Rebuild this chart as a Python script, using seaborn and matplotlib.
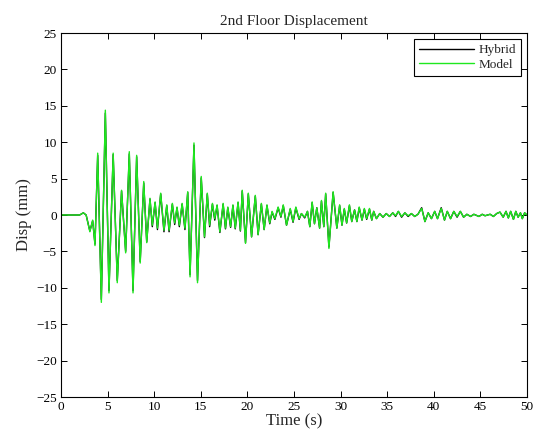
import numpy as np
import pandas as pd
import matplotlib
matplotlib.use("Agg")
import matplotlib.pyplot as plt
import seaborn as sns

# Peak/trough samples of the 2nd floor displacement record (s, mm)
time_s = [
    0.0, 2.0, 2.4, 2.7, 3.1, 3.4, 3.65, 3.94, 4.33, 4.76, 5.15, 5.6, 6.04, 6.5,
    6.94, 7.33, 7.73, 8.12, 8.5, 8.88, 9.2, 9.55, 9.8, 10.1, 10.35, 10.7, 11.05,
    11.35, 11.6, 11.95, 12.2, 12.45, 12.7, 13.0, 13.3, 13.6, 13.85, 14.27, 14.65,
    15.05, 15.4, 15.7, 15.95, 16.25, 16.5, 16.75, 17.05, 17.4, 17.65, 17.9, 18.2,
    18.45, 18.7, 19.0, 19.25, 19.45, 19.8, 20.1, 20.45, 20.85, 21.15, 21.5, 21.8,
    22.1, 22.4, 22.65, 22.95, 23.3, 23.6, 23.85, 24.2, 24.6, 24.9, 25.2, 25.55,
    25.8, 26.15, 26.45, 26.7, 26.95, 27.2, 27.45, 27.75, 27.95, 28.2, 28.4, 28.75,
    29.2, 29.6, 29.9, 30.15, 30.4, 30.65, 30.95, 31.2, 31.5, 31.75, 32.0, 32.3,
    32.55, 32.8, 33.1, 33.35, 33.55, 33.85, 34.2, 34.55, 34.9, 35.25, 35.6, 35.9,
    36.2, 36.55, 36.9, 37.25, 37.6, 37.95, 38.3, 38.7, 39.05, 39.4, 39.75, 40.1,
    40.4, 40.8, 41.15, 41.45, 41.8, 42.15, 42.5, 42.85, 43.2, 43.55, 43.95, 44.3,
    44.85, 45.2, 45.5, 46.05, 46.4, 46.75, 47.1, 47.45, 47.75, 48.0, 48.25, 48.55,
    48.8, 49.05, 49.3, 49.5, 49.75, 50.0,
]

model_mm = [
    0.0, 0.0, 0.3, 0.0, -2.3, -0.7, -4.2, 8.5, -12.0, 14.4, -10.7, 8.5, -9.3, 3.4,
    -5.2, 8.7, -10.7, 8.2, -6.6, 4.6, -3.8, 2.3, -1.4, 1.8, -1.8, 3.0, -2.1,
    1.4, -2.1, 1.6, -1.1, 1.1, -1.4, 1.6, -1.8, 3.2, -8.5, 9.9, -9.3,
    5.3, -3.0, 3.0, -1.4, 1.6, -0.5, 1.4, -2.3, 1.6, -1.8, 1.1, -1.6,
    1.4, -1.8, 1.8, -2.1, 3.4, -3.9, 3.0, -3.0, 2.7, -2.7, 1.6, -2.0,
    1.4, -1.1, 0.5, -0.5, 1.1, -0.2, 1.4, -1.4, 0.9, -0.9, 1.1, -0.5,
    0.2, -0.3, 0.5, -1.6, 1.8, -1.2, 1.0, -1.8, 2.0, -1.6, 3.0, -4.6,
    3.2, -1.8, 1.4, -1.4, 0.9, -1.1, 1.4, -0.9, 0.7, -0.9, 1.1, -0.7,
    0.9, -0.5, 0.9, -0.7, 0.5, -0.5, 0.2, -0.3, 0.2, -0.2, 0.3, -0.1,
    0.5, -0.2, 0.3, -0.1, 0.2, -0.2, 0.1, 0.9, -0.9, 0.3, -0.5, 0.5,
    -0.5, 0.9, -0.7, 0.5, -0.5, 0.5, -0.2, 0.5, -0.3, 0.1, -0.2, 0.1,
    -0.2, 0.1, -0.1, 0.1, -0.2, 0.2, 0.4, -0.3, 0.5, -0.4, 0.5, -0.6,
    0.5, -0.3, 0.3, -0.5, 0.3, 0.0,
]

hybrid_mm = [
    0.0, 0.0, 0.3, 0.0, -2.2, -0.8, -4.0, 8.2, -11.6, 14.0, -10.4, 8.3, -9.0, 3.3,
    -5.0, 8.4, -10.4, 8.0, -6.4, 4.4, -3.7, 2.2, -1.6, 1.7, -2.0, 2.9, -2.3,
    1.3, -2.3, 1.5, -1.3, 1.0, -1.6, 1.5, -2.0, 3.1, -8.2, 9.6, -9.0,
    5.1, -3.1, 2.9, -1.6, 1.5, -0.7, 1.3, -2.4, 1.5, -1.9, 1.0, -1.7,
    1.3, -1.9, 1.7, -2.2, 3.3, -3.8, 2.9, -3.0, 2.6, -2.7, 1.5, -2.0,
    1.3, -1.2, 0.4, -0.6, 1.0, -0.3, 1.3, -1.4, 0.8, -1.0, 1.0, -0.6,
    0.2, -0.4, 0.5, -1.6, 1.7, -1.2, 1.0, -1.8, 1.9, -1.6, 2.9, -4.4,
    3.1, -1.8, 1.3, -1.4, 0.8, -1.1, 1.3, -0.9, 0.7, -0.9, 1.0, -0.7,
    0.8, -0.6, 0.8, -0.7, 0.5, -0.5, 0.2, -0.3, 0.2, -0.2, 0.3, -0.2,
    0.5, -0.3, 0.3, -0.2, 0.2, -0.2, 0.1, 1.0, -0.9, 0.3, -0.5, 0.5,
    -0.5, 1.0, -0.7, 0.5, -0.5, 0.5, -0.3, 0.5, -0.3, 0.1, -0.2, 0.1,
    -0.2, 0.1, -0.1, 0.1, -0.2, 0.2, 0.4, -0.3, 0.5, -0.4, 0.5, -0.6,
    0.5, -0.3, 0.3, -0.5, 0.3, 0.0,
]

series_names = ["Hybrid", "Model"]
x_ticks = list(range(0, 51, 5))
y_ticks = list(range(-25, 26, 5))

df = pd.concat([
    pd.DataFrame({"Time (s)": time_s, "Disp (mm)": hybrid_mm, "series": "Hybrid"}),
    pd.DataFrame({"Time (s)": time_s, "Disp (mm)": model_mm, "series": "Model"}),
], ignore_index=True)

sns.set_style("ticks")
plt.rcParams["font.family"] = ["Liberation Serif", "DejaVu Serif"]
plt.rcParams["axes.linewidth"] = 0.8

fig = plt.figure(figsize=(5.33, 4.42), dpi=100)
ax = fig.add_axes([0.1144, 0.1018, 0.8743, 0.8235])

sns.lineplot(
    data=df, x="Time (s)", y="Disp (mm)", hue="series", hue_order=series_names,
    palette={"Hybrid": "black", "Model": "#1ee81e"},
    estimator=None, sort=False, linewidth=1.0, ax=ax,
)

ax.set_xlim(0, 50)
ax.set_ylim(-25, 25)
ax.set_xticks(x_ticks)
ax.set_yticks(y_ticks)
ax.tick_params(direction="in", length=4, width=0.7, top=True, right=True,
               labelsize=9.5, colors="black", pad=3)
for sp in ax.spines.values():
    sp.set_visible(True)
    sp.set_color("black")

ax.set_xlabel("Time (s)", fontsize=12, labelpad=0)
ax.set_ylabel("Disp (mm)", fontsize=12, labelpad=3)
ax.set_title("2nd Floor Displacement", fontsize=11, pad=6)

leg = ax.legend(loc="upper right", fontsize=9.5, frameon=True, fancybox=False,
                edgecolor="black", framealpha=1, handlelength=4.2,
                borderpad=0.4, labelspacing=0.15, handletextpad=0.3,
                borderaxespad=0.45)
leg.get_frame().set_linewidth(0.8)
leg.set_title(None)

fig.savefig("out.png", dpi=100)
